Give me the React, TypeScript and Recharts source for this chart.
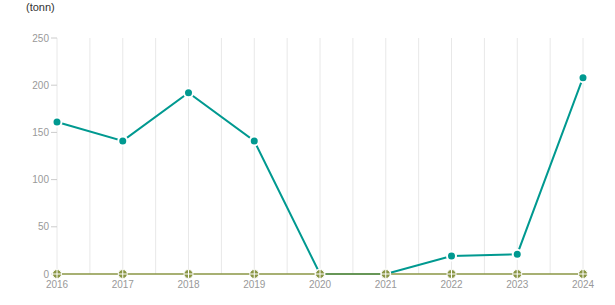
import React from 'react';
import { LineChart, Line, XAxis, YAxis, CartesianGrid } from 'recharts';

const years = [2016, 2017, 2018, 2019, 2020, 2021, 2022, 2023, 2024];
const catchTonnes = [161, 141, 192, 141, 0, 0, 19, 21, 208];
const otherTonnes = [0, 0, 0, 0, 0, 0, 0, 0, 0];
const yTicks = [0, 50, 100, 150, 200, 250];

// grid lines sit on every year and halfway between years
const xTicks: number[] = [];
for (let y = years[0]; y <= years[years.length - 1]; y += 0.5) xTicks.push(y);

const data = years.map((year, i) => ({
  year,
  teal: catchTonnes[i],
  olive: otherTonnes[i],
}));

const TEAL = '#009990';
const OLIVE = '#8a9645';
const font = '"Liberation Sans", Arial, sans-serif';

const OliveDot = (props: any) => {
  const { cx, cy } = props;
  if (cx == null || cy == null) return null;
  return (
    <g>
      <circle cx={cx} cy={cy} r={4.5} fill={OLIVE} stroke="#fff" strokeWidth={1} />
      <line x1={cx} y1={cy - 4} x2={cx} y2={cy + 4} stroke="#fff" strokeWidth={1} />
      <line x1={cx - 4} y1={cy} x2={cx + 4} y2={cy} stroke="#fff" strokeWidth={1} />
    </g>
  );
};

const App: React.FC = () => {
  return (
    <div style={{ position: 'absolute', left: 0, top: 0, width: 615, height: 305, background: '#fff', fontFamily: font }}>
      <div style={{ position: 'absolute', left: 26, top: 1, fontSize: 11, color: '#333' }}>(tonn)</div>
      <LineChart
        width={615}
        height={305}
        data={data}
        margin={{ top: 38, right: 32, left: 0, bottom: 11 }}
      >
        <CartesianGrid horizontal={false} stroke="#e8e8e8" />
        <XAxis
          dataKey="year"
          type="number"
          domain={[2016, 2024]}
          ticks={xTicks}
          interval={0}
          tickFormatter={(v: number) => (Number.isInteger(v) ? String(v) : '')}
          axisLine={false}
          tickLine={false}
          tickSize={4}
          tickMargin={3}
          height={20}
          tick={{ fill: '#999', fontSize: 10, fontFamily: font }}
        />
        <YAxis
          domain={[0, 250]}
          ticks={yTicks}
          interval={0}
          width={57}
          axisLine={false}
          tickLine={{ stroke: '#ccc' }}
          tickSize={6}
          tickMargin={2}
          tick={{ fill: '#999', fontSize: 10, fontFamily: font }}
        />
        <Line
          dataKey="teal"
          stroke={TEAL}
          strokeWidth={2}
          dot={{ r: 4.5, fill: TEAL, stroke: '#fff', strokeWidth: 2 }}
          isAnimationActive={false}
        />
        <Line
          dataKey="olive"
          stroke={OLIVE}
          strokeWidth={1.5}
          dot={<OliveDot />}
          isAnimationActive={false}
        />
      </LineChart>
    </div>
  );
};

export default App;
